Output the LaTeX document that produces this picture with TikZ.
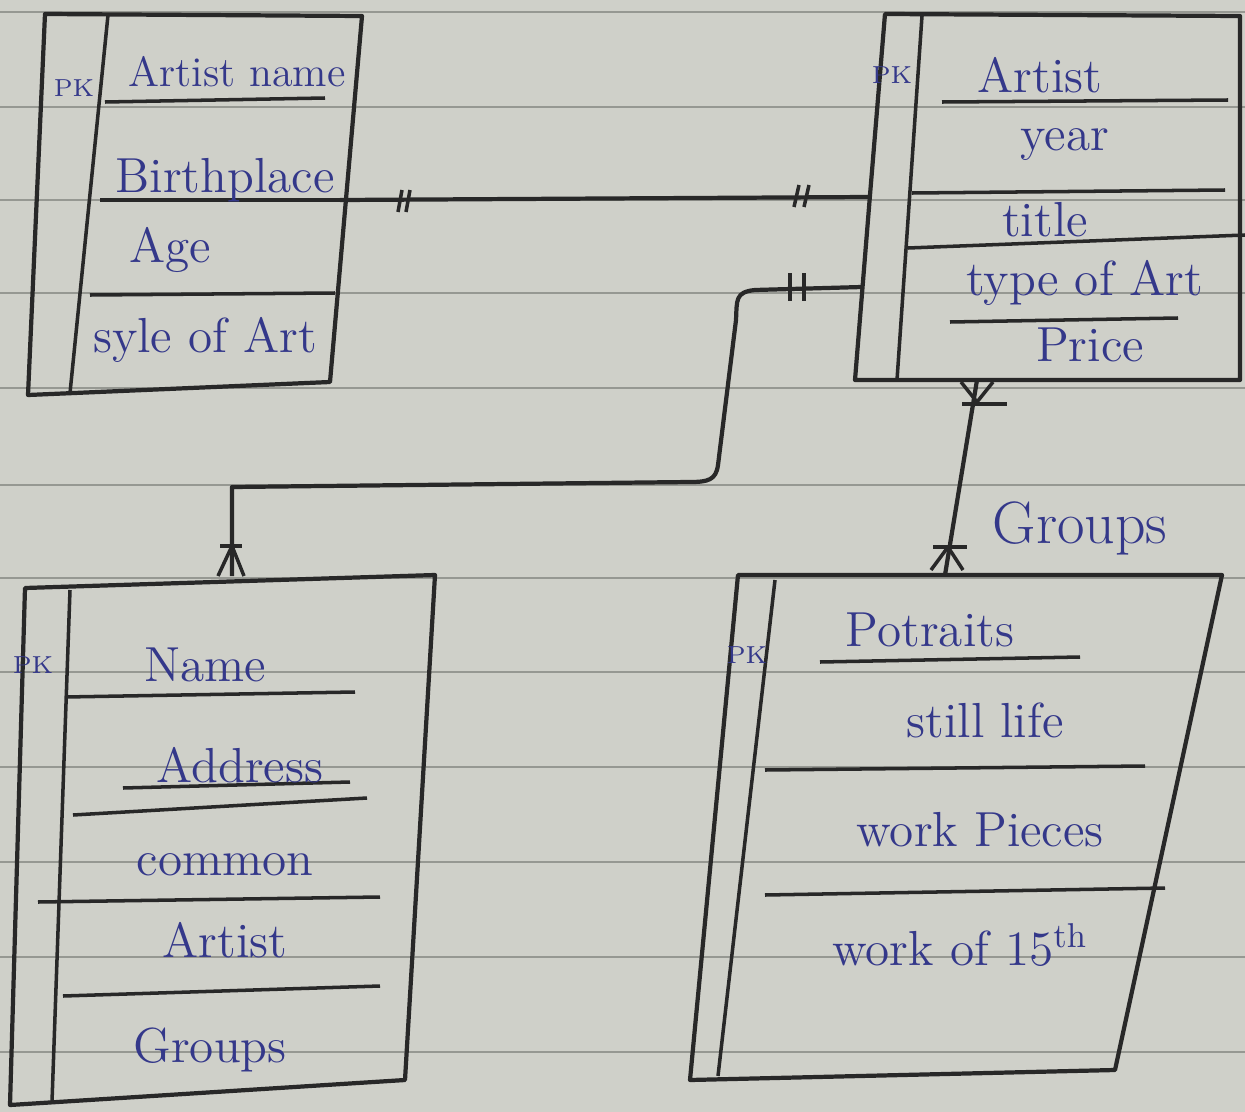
\documentclass[tikz,border=0pt]{standalone}
\usetikzlibrary{calc}
\definecolor{paper}{RGB}{207,208,201}
\definecolor{rule}{RGB}{150,152,146}
\definecolor{ink}{RGB}{52,56,138}
\definecolor{pencil}{RGB}{40,40,40}

\begin{document}
\begin{tikzpicture}[
		x=0.01cm, y=-0.01cm,
		edge/.style = {pencil, line width=1.2pt, line join=round},
		sep/.style  = {pencil, line width=1pt},
		tick/.style = {pencil, line width=1pt},
		attr/.style = {ink, font=\fontsize{14}{16}\selectfont},
		pk/.style   = {ink, font=\scriptsize}
		]
		\fill[paper] (0,0) rectangle (1245,1112);
		\useasboundingbox (0,0) rectangle (1245,1112);
		
		% ruled paper
		\foreach \y in {12,107,200,293,388,485,578,672,767,862,957,1052}
			\draw[rule, line width=0.8pt] (0,\y) -- (1245,\y);
		
		% Table: artist (top left)
		\draw[edge] (45,14) -- (362,16) -- (330,382) -- (28,395) -- cycle;
		\draw[sep] (108,15) -- (70,393);
		\draw[sep] (105,102) -- (325,98);
		\draw[sep] (100,200) -- (340,200);
		\draw[sep] (90,295) -- (335,293);
		\node[pk] (pkA) at (74,88) {PK};
		\node[attr, font=\fontsize{12}{14}\selectfont] (aName) at (237,72) {Artist name};
		\node[attr] (aBirth) at (225,180) {Birthplace};
		\node[attr] (aAge)   at (170,250) {Age};
		\node[attr] (aStyle) at (205,340) {syle of Art};
		
		% Table: artwork (top right)
		\draw[edge] (885,14) -- (1240,16) -- (1240,380) -- (855,380) -- (870,195) -- cycle;
		\draw[sep] (922,16) -- (897,380);
		\draw[sep] (942,102) -- (1228,100);
		\draw[sep] (912,193) -- (1225,190);
		\draw[sep] (908,248) -- (1245,235);
		\draw[sep] (950,322) -- (1178,318);
		\node[pk] (pkW) at (892,75) {PK};
		\node[attr] (wArtist) at (1040,75)  {Artist};
		\node[attr] (wYear)   at (1065,145) {year};
		\node[attr] (wTitle)  at (1045,220) {title};
		\node[attr] (wType)   at (1085,283) {type of Art};
		\node[attr] (wPrice)  at (1090,345) {Price};
		
		% Table: customer (bottom left)
		\draw[edge] (25,588) -- (435,575) -- (405,1080) -- (10,1105) -- cycle;
		\draw[sep] (70,590) -- (52,1102);
		\draw[sep] (65,697) -- (355,692);
		\draw[sep] (123,788) -- (350,782);
		\draw[sep] (73,815) -- (367,798);
		\draw[sep] (38,902) -- (380,897);
		\draw[sep] (63,996) -- (380,986);
		\node[pk] (pkC) at (33,665) {PK};
		\node[attr] (cName)   at (205,665)  {Name};
		\node[attr] (cAddr)   at (240,765)  {Address};
		\node[attr] (cCommon) at (225,865)  {common};
		\node[attr] (cArtist) at (225,940)  {Artist};
		\node[attr] (cGroups) at (210,1050) {Groups};
		
		% Table: groups (bottom right)
		\draw[edge] (738,575) -- (1222,575) -- (1115,1070) -- (690,1080) -- cycle;
		\draw[sep] (775,580) -- (718,1076);
		\draw[sep] (820,662) -- (1080,657);
		\draw[sep] (765,770) -- (1145,766);
		\draw[sep] (765,895) -- (1165,888);
		\node[pk] (pkG) at (747,655) {PK};
		\node[attr] (gPort)  at (930,630) {Potraits};
		\node[attr] (gStill) at (985,720) {still life};
		\node[attr] (gWork)  at (980,830) {work Pieces};
		\node[attr] (gOld)   at (960,945) {work of 15\textsuperscript{th}};
		
		% connector: artist -- artwork
		\coordinate (aR) at (340,200);
		\coordinate (wL) at (869,197);
		\draw[edge] (aR) -- (wL);
		\draw[tick] ($(aR)+(62,-10)$) -- ($(aR)+(58,12)$);
		\draw[tick] ($(aR)+(70,-10)$) -- ($(aR)+(66,12)$);
		\draw[tick] ($(wL)+(-70,-12)$) -- ($(wL)+(-75,10)$);
		\draw[tick] ($(wL)+(-60,-12)$) -- ($(wL)+(-65,10)$);
		
		% connector: artwork -- customer
		\coordinate (wB) at (862,287);
		\coordinate (cT) at (232,576);
		\draw[edge] (wB) -- (755,290) .. controls (735,292) and (737,300) .. (736,320)
			-- (718,465) .. controls (716,480) and (708,482) .. (690,482)
			-- (232,487) -- (cT);
		\draw[tick] ($(wB)+(-72,-14)$) -- ($(wB)+(-72,14)$);
		\draw[tick] ($(wB)+(-58,-14)$) -- ($(wB)+(-58,14)$);
		\draw[tick] ($(cT)+(-12,-30)$) -- ($(cT)+(10,-30)$);
		\draw[tick] ($(cT)+(0,-30)$) -- ($(cT)+(-14,0)$);
		\draw[tick] ($(cT)+(0,-30)$) -- ($(cT)+(12,0)$);
		
		% connector: artwork -- groups
		\coordinate (wD) at (977,380);
		\coordinate (gT) at (945,575);
		\draw[edge] (wD) -- (gT);
		\draw[tick] ($(wD)+(-15,24)$) -- ($(wD)+(30,24)$);
		\draw[tick] ($(wD)+(0,22)$) -- ($(wD)+(-16,2)$);
		\draw[tick] ($(wD)+(0,22)$) -- ($(wD)+(16,2)$);
		\draw[tick] ($(gT)+(-12,-28)$) -- ($(gT)+(22,-28)$);
		\draw[tick] ($(gT)+(3,-28)$) -- ($(gT)+(-14,-5)$);
		\draw[tick] ($(gT)+(3,-28)$) -- ($(gT)+(18,-5)$);
		\node[attr, font=\fontsize{17}{19}\selectfont] (rel) at (1080,528) {Groups};
	\end{tikzpicture}
\end{document}
